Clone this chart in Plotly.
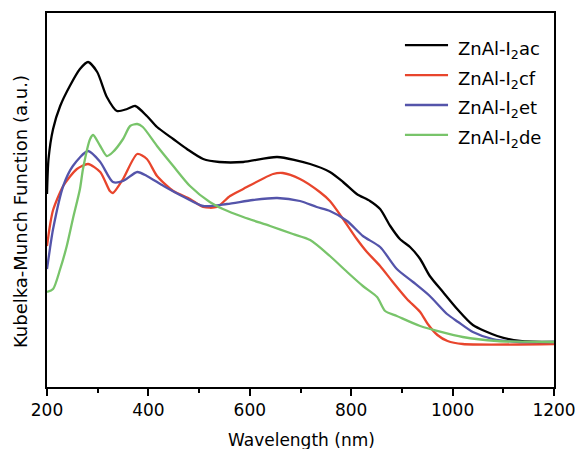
import plotly.graph_objects as go

# Wavelength (nm) and Kubelka-Munch values (a.u.)
ac_x = [200, 203, 212, 226, 245, 265, 281, 299, 318, 338, 358, 374, 397, 417, 449, 476, 508, 540,
        587, 654, 719, 758, 784, 811, 837, 857, 877, 896, 916, 936, 955, 981, 1009, 1040, 1088, 1133, 1200]
ac_y = [193, 228, 258, 281, 301, 318, 325, 315, 290, 276, 278, 281, 271, 260, 248, 238, 228, 225,
        225, 230, 223, 215, 205, 193, 186, 178, 161, 148, 140, 128, 111, 95, 78, 62, 51, 46, 45]

cf_x = [200, 206, 212, 232, 259, 281, 305, 324, 330, 350, 378, 397, 417, 449, 482, 508, 535, 561,
        587, 646, 665, 699, 738, 758, 784, 811, 831, 857, 882, 910, 936, 951, 970, 990, 1020, 1200]
cf_y = [141, 162, 177, 201, 218, 223, 215, 196, 194, 208, 233, 228, 211, 196, 188, 180, 180, 191,
        198, 213, 214, 208, 195, 186, 168, 148, 135, 121, 105, 88, 75, 63, 52, 46, 43, 43]

et_x = [200, 206, 212, 232, 251, 281, 305, 330, 350, 378, 397, 430, 470, 508, 555, 606, 654, 699,
        732, 758, 792, 823, 857, 890, 922, 955, 989, 1011, 1040, 1079, 1133, 1200]
et_y = [118, 139, 158, 201, 221, 236, 225, 205, 206, 215, 211, 201, 190, 181, 183, 187, 189, 186,
        180, 176, 166, 151, 140, 118, 105, 91, 73, 65, 55, 48, 45, 45]

de_x = [200, 212, 226, 239, 251, 265, 271, 285, 291, 305, 318, 330, 350, 364, 378, 389, 417, 449,
        482, 521, 547, 587, 640, 685, 719, 758, 792, 823, 851, 867, 890, 936, 1020, 1088, 1200]
de_y = [95, 98, 118, 141, 168, 198, 218, 248, 252, 241, 231, 235, 248, 261, 263, 260, 241, 221,
        201, 185, 178, 170, 161, 153, 147, 131, 115, 101, 90, 76, 71, 61, 50, 46, 45]

names = ["ZnAl-I<sub>2</sub>ac", "ZnAl-I<sub>2</sub>cf", "ZnAl-I<sub>2</sub>et", "ZnAl-I<sub>2</sub>de"]
colors = ["#000000", "#e8452c", "#5454aa", "#78c46a"]
xs = [ac_x, cf_x, et_x, de_x]
ys = [ac_y, cf_y, et_y, de_y]

font = "DejaVu Sans, sans-serif"
fig = go.Figure()
for x, y, n, c in zip(xs, ys, names, colors):
    fig.add_trace(go.Scatter(x=x, y=y, mode="lines", name=n, showlegend=False,
                             line=dict(color=c, width=2.3, shape="spline", smoothing=0.7)))

# hand-placed legend (line sample + label) in paper coordinates
leg_x0, leg_x1, leg_tx = 0.706, 0.791, 0.807
leg_rows = [0.914, 0.834, 0.754, 0.674]
shapes, annots = [], []
for n, c, ry in zip(names, colors, leg_rows):
    shapes.append(dict(type="line", xref="paper", yref="paper", x0=leg_x0, x1=leg_x1,
                       y0=ry, y1=ry, line=dict(color=c, width=2.3)))
    annots.append(dict(text=n, xref="paper", yref="paper", x=leg_tx, y=ry - 0.012,
                       xanchor="left", yanchor="middle", showarrow=False,
                       font=dict(family=font, size=18, color="black")))

annots.append(dict(text="Kubelka-Munch Function (a.u.)", xref="paper", yref="paper",
                   x=-0.051, y=0.468, textangle=-90, xanchor="center", yanchor="middle",
                   showarrow=False, font=dict(family=font, size=18, color="black")))
annots.append(dict(text="Wavelength (nm)", xref="paper", yref="paper",
                   x=0.501, y=-0.142, xanchor="center", yanchor="middle",
                   showarrow=False, font=dict(family=font, size=17, color="black")))

fig.update_layout(
    width=575, height=449,
    margin=dict(l=47, r=21, t=13, b=62),
    paper_bgcolor="white", plot_bgcolor="white",
    font=dict(family=font, size=17, color="black"),
    showlegend=False,
    shapes=shapes, annotations=annots,
    xaxis=dict(range=[200, 1200], tickvals=[200, 400, 600, 800, 1000, 1200],
               ticks="outside", ticklen=7, tickwidth=1.5, tickcolor="black",
               minor=dict(tickvals=[300, 500, 700, 900, 1100], ticks="outside", ticklen=4,
                          tickwidth=1.5, tickcolor="black"),
               showline=True, linecolor="black", linewidth=2, mirror=True,
               showgrid=False, zeroline=False, automargin=False,
               ticklabeloverflow="allow",
               tickfont=dict(size=17, family=font)),
    yaxis=dict(range=[0, 374], showticklabels=False, ticks="",
               showline=True, linecolor="black", linewidth=2, mirror=True,
               showgrid=False, zeroline=False, automargin=False),
)

fig.write_html("out.html")
